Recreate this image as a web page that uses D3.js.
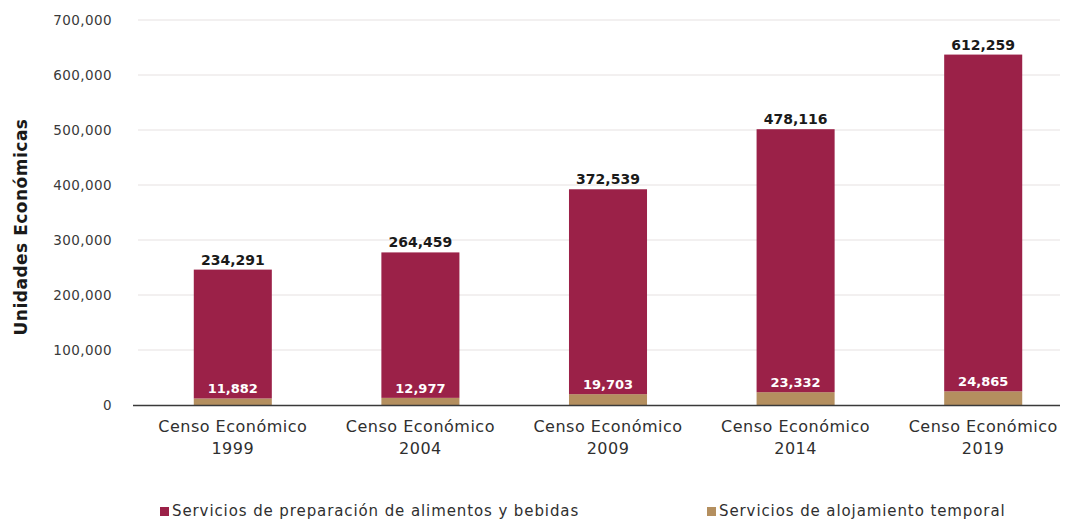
<!DOCTYPE html>
<html>
<head>
<meta charset="utf-8">
<script src="https://cdn.jsdelivr.net/npm/d3@7/dist/d3.min.js"></script>
<style>
  html, body { margin: 0; padding: 0; background: #ffffff; }
  svg { display: block; font-family: "DejaVu Sans", "Noto Sans", sans-serif; }
</style>
</head>
<body>
<svg id="chart" width="1065" height="521"></svg>
<script>
// Censos Económicos: unidades económicas por subsector
const censos = ["1999", "2004", "2009", "2014", "2019"];
const alimentos = [234291, 264459, 372539, 478116, 612259];
const alojamiento = [11882, 12977, 19703, 23332, 24865];
const yTicks = [0, 100000, 200000, 300000, 400000, 500000, 600000, 700000];
const seriesNames = ["Servicios de preparación de alimentos y bebidas", "Servicios de alojamiento temporal"];

const colorAlimentos = "#9b2148";
const colorAlojamiento = "#b48f5f";

const svg = d3.select("#chart");
const fmt = d3.format(",");

const y = d3.scaleLinear().domain([0, 700000]).range([405, 20]);
const x = d3.scaleBand().domain(censos).range([139, 1077])
  .paddingInner(0.584).paddingOuter(0.292);

// Grid lines
svg.append("g").selectAll("line").data(yTicks.filter(d => d > 0)).join("line")
  .attr("x1", 138).attr("x2", 1060)
  .attr("y1", d => y(d)).attr("y2", d => y(d))
  .attr("stroke", "#e6e1e1").attr("stroke-width", 1);

// Y axis labels
const yAxis = d3.axisLeft(y).tickValues(yTicks).tickSize(0).tickPadding(0).tickFormat(fmt);
const gy = svg.append("g").attr("transform", "translate(112,0)").call(yAxis);
gy.select(".domain").remove();
gy.selectAll("text").attr("font-size", 13.5).attr("fill", "#3a3a3a")
  .attr("letter-spacing", 0.4)
  .attr("font-family", "'DejaVu Sans', sans-serif");

// Stacked data
const rows = censos.map((c, i) => ({ censo: c, alojamiento: alojamiento[i], alimentos: alimentos[i] }));
const stack = d3.stack().keys(["alojamiento", "alimentos"]);
const layers = stack(rows);
const colors = { alojamiento: colorAlojamiento, alimentos: colorAlimentos };

svg.append("g").selectAll("g").data(layers).join("g")
  .attr("fill", d => colors[d.key])
  .selectAll("rect").data(d => d).join("rect")
  .attr("x", d => x(d.data.censo))
  .attr("width", x.bandwidth())
  .attr("y", d => y(d[1]))
  .attr("height", d => y(d[0]) - y(d[1]));

// X axis baseline
svg.append("line").attr("x1", 133).attr("x2", 1060)
  .attr("y1", y(0) + 0.5).attr("y2", y(0) + 0.5)
  .attr("stroke", "#3a3a3a").attr("stroke-width", 1.5);

// Value labels above bars (alimentos)
svg.append("g").selectAll("text").data(rows).join("text")
  .attr("x", d => x(d.censo) + x.bandwidth() / 2)
  .attr("y", d => y(d.alimentos + d.alojamiento) - 5)
  .attr("text-anchor", "middle")
  .attr("font-size", 14).attr("font-weight", "bold").attr("fill", "#1a1a1a")
  .text(d => fmt(d.alimentos));

// Value labels inside bars (alojamiento)
svg.append("g").selectAll("text").data(rows).join("text")
  .attr("x", d => x(d.censo) + x.bandwidth() / 2)
  .attr("y", d => y(d.alojamiento) - 5)
  .attr("text-anchor", "middle")
  .attr("font-size", 13).attr("font-weight", "bold").attr("fill", "#ffffff")
  .text(d => fmt(d.alojamiento));

// Category labels
const gx = svg.append("g").selectAll("text").data(censos).join("text")
  .attr("x", d => x(d) + x.bandwidth() / 2)
  .attr("text-anchor", "middle")
  .attr("font-size", 16).attr("letter-spacing", 0.5).attr("fill", "#2f2f2f");
gx.append("tspan").attr("x", d => x(d) + x.bandwidth() / 2).attr("y", 432).text("Censo Económico");
gx.append("tspan").attr("x", d => x(d) + x.bandwidth() / 2).attr("y", 454).text(d => d);

// Y axis title
svg.append("text")
  .attr("transform", "translate(27,227) rotate(-90)")
  .attr("text-anchor", "middle")
  .attr("font-size", 17).attr("font-weight", "bold").attr("letter-spacing", 0.5)
  .attr("fill", "#1a1a1a")
  .text("Unidades Económicas");

// Legend
const legend = [
  { name: seriesNames[0], color: colorAlimentos, x: 160 },
  { name: seriesNames[1], color: colorAlojamiento, x: 707 }
];
const lg = svg.append("g").selectAll("g").data(legend).join("g")
  .attr("transform", d => `translate(${d.x},516)`);
lg.append("rect").attr("x", 0).attr("y", -9).attr("width", 9).attr("height", 9)
  .attr("fill", d => d.color);
lg.append("text").attr("x", 12).attr("y", 0)
  .attr("font-size", 15).attr("letter-spacing", 0.9).attr("fill", "#2f2f2f")
  .text(d => d.name);
</script>
</body>
</html>
